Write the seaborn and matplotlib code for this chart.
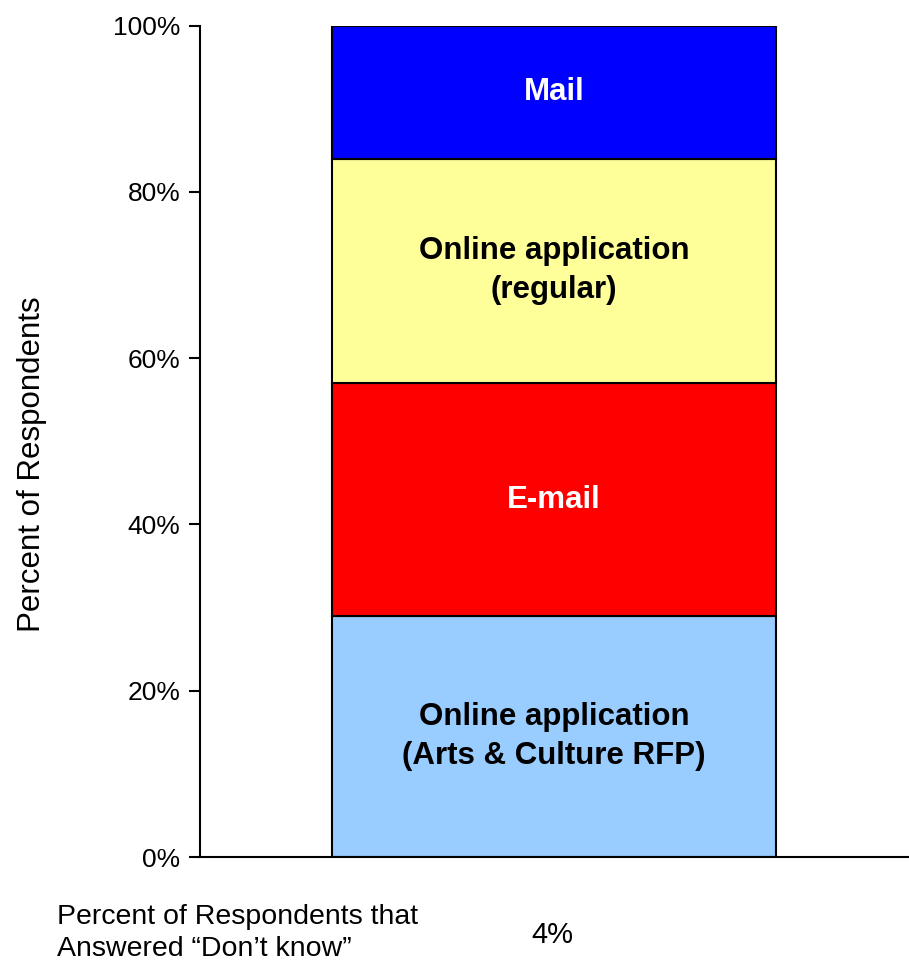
import matplotlib
matplotlib.use("Agg")
import matplotlib.pyplot as plt
import seaborn as sns
import pandas as pd

# segment data, bottom to top
segments = ["Online application\n(Arts & Culture RFP)", "E-mail",
            "Online application\n(regular)", "Mail"]
shares = [29, 28, 27, 16]
colors = ["#99CCFF", "#FF0000", "#FFFF99", "#0000FF"]
text_colors = ["black", "white", "black", "white"]
dont_know = "4%"

sns.set_theme(style="white")
plt.rcParams['font.family'] = ['Liberation Sans', 'DejaVu Sans']
plt.rcParams['text.color'] = 'black'

fig = plt.figure(figsize=(9.09, 9.63), dpi=100)
ax = fig.add_axes([0.22, 0.110, 0.779, 0.8635])

bottom = 0
for seg, val, col, tc in zip(segments, shares, colors, text_colors):
    df = pd.DataFrame({"group": ["all"], "share": [val]})
    sns.barplot(data=df, x="group", y="share", color=col, width=0.627,
                bottom=bottom, edgecolor="black", linewidth=1.5,
                saturation=1, ax=ax)
    ax.text(0, bottom + val / 2, seg, ha="center", va="center",
            fontsize=22.5, fontweight="bold", color=tc, linespacing=1.4)
    bottom += val

ax.set_xlim(-0.5, 0.5)
ax.set_ylim(0, 100)
ax.set_yticks(range(0, 101, 20))
ax.set_yticklabels([f"{t}%" for t in range(0, 101, 20)], fontsize=19)
ax.set_xticks([])
ax.set_xlabel("")
ax.set_ylabel("Percent of Respondents", fontsize=22.5, color="black")
ax.yaxis.set_label_coords(-0.216, 0.473)
ax.tick_params(axis="y", left=True, length=8, width=1.5, color="black",
               labelcolor="black", pad=6, direction="out")
for side in ["top", "right"]:
    ax.spines[side].set_visible(False)
for side in ["left", "bottom"]:
    ax.spines[side].set_color("black")
    ax.spines[side].set_linewidth(1.5)

fig.text(57 / 909, 1 - 933 / 963, "Percent of Respondents that\nAnswered \u201cDon\u2019t know\u201d",
         ha="left", va="center", fontsize=20.5, linespacing=1.3, color="black")
fig.text(552 / 909, 1 - 935 / 963, dont_know, ha="center", va="center",
         fontsize=21, color="black")

fig.savefig("out.png", dpi=100)
